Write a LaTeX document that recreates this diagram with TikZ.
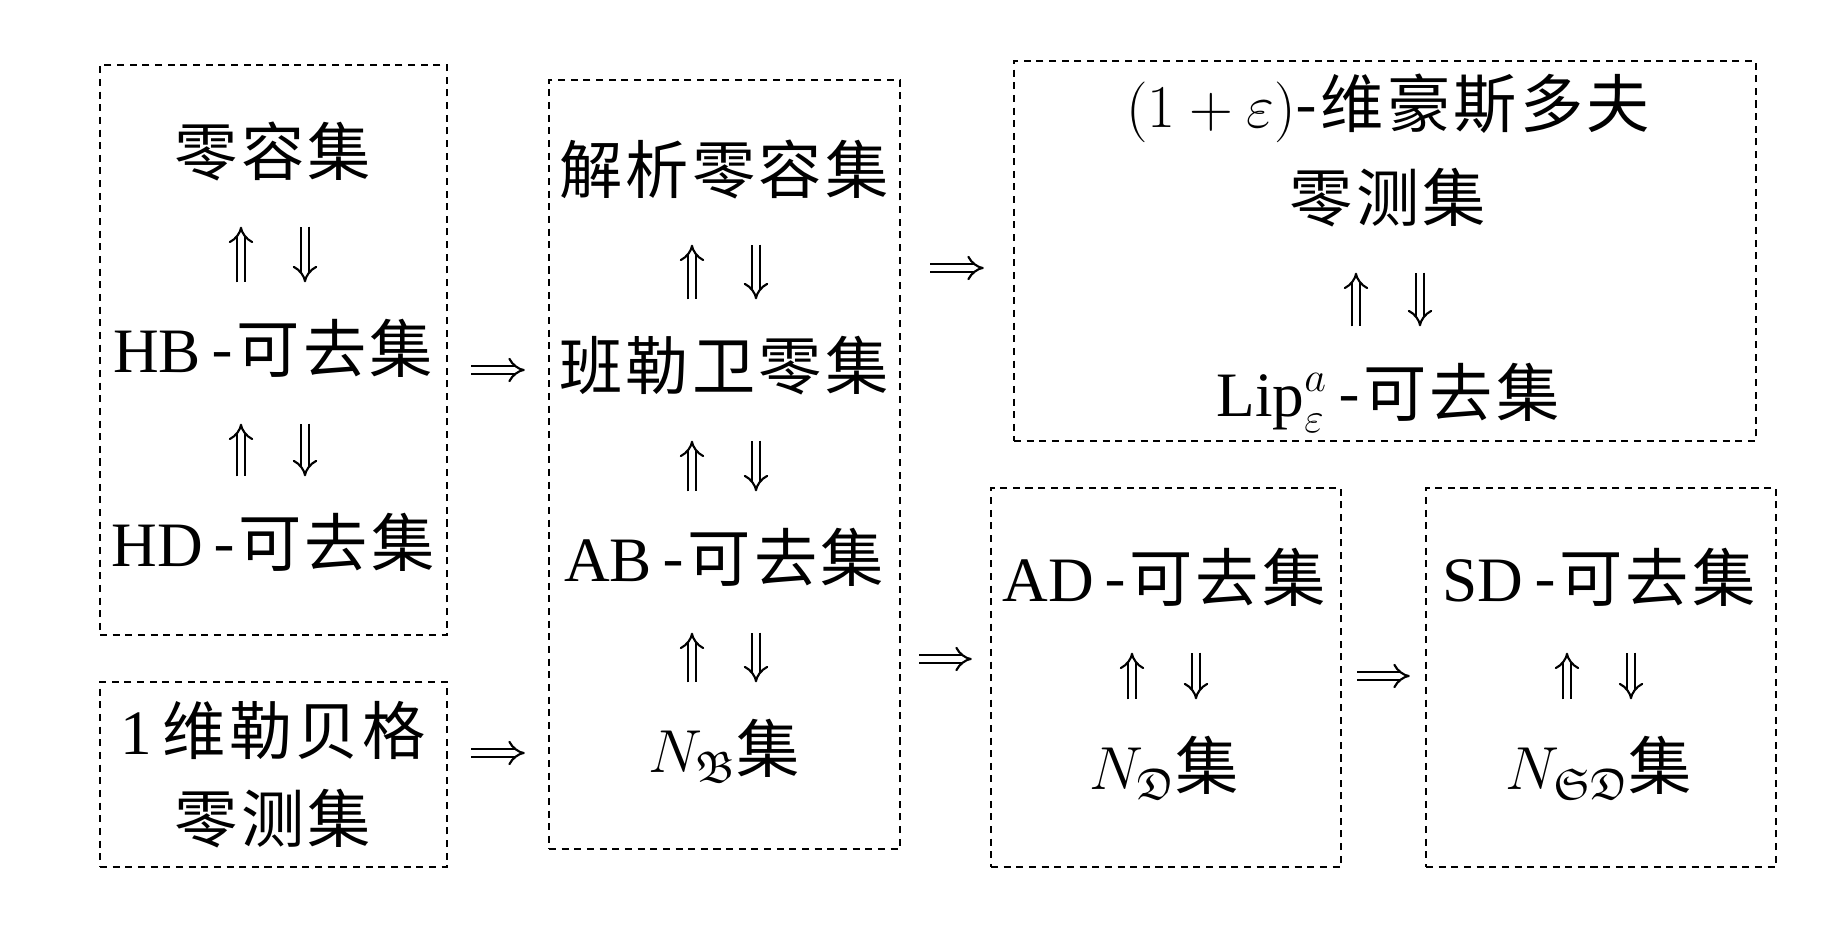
\documentclass[tikz,border=0pt]{standalone}
\usepackage{amsmath,amssymb}
\usepackage{fontspec}
\setmainfont{Liberation Serif}
\newfontfamily\cjk[LetterSpace=5]{Noto Sans CJK SC}
\usetikzlibrary{arrows.meta}

\tikzset{
  box/.style={draw, line width=0.7pt, dash pattern=on 2pt off 1.6pt, inner sep=0pt},
  txt/.style={font=\fontsize{18}{20}\selectfont, inner sep=0pt, text height=0.5cm, text depth=0.1cm},
  imp/.style={double, double distance=1.8pt, line width=0.6pt, -{Implies}, shorten >=0.40cm, shorten <=0.40cm},
  go/.style={double, double distance=1.8pt, line width=0.6pt, -{Implies}, shorten >=#1, shorten <=#1},
  go/.default=0.23cm
}
% up and down arrows between two rows
\newcommand{\ud}[2]{%
  \draw[imp] ([xshift=-0.32cm]#2.north) -- ([xshift=-0.32cm]#1.south);
  \draw[imp] ([xshift=0.32cm]#1.south) -- ([xshift=0.32cm]#2.north);
}

\begin{document}
\begin{tikzpicture}
    \useasboundingbox (0,0) rectangle (18.44,9.44);

    % frames
    \node[box, minimum width=3.47cm, minimum height=5.70cm] (b1) at (2.735,5.94) {};
    \node[box, minimum width=3.47cm, minimum height=1.85cm] (b2) at (2.735,1.695) {};
    \node[box, minimum width=3.51cm, minimum height=7.69cm] (b3) at (7.245,4.795) {};
    \node[box, minimum width=7.42cm, minimum height=3.80cm] (b4) at (13.85,6.93) {};
    \node[box, minimum width=3.50cm, minimum height=3.79cm] (b5) at (11.66,2.665) {};
    \node[box, minimum width=3.50cm, minimum height=3.79cm] (b6) at (16.01,2.665) {};

    % first column
    \node[txt] (lr) at (2.73,7.88) {\cjk 零容集};
    \node[txt] (hb) at (2.73,5.91) {HB\,{\cjk -可去集}};
    \node[txt] (hd) at (2.73,3.97) {HD\,{\cjk -可去集}};
    \node[txt] (lbg) at (2.73,2.09) {1\,{\cjk 维勒贝格}};
    \node[txt] (lc1) at (2.73,1.21) {\cjk 零测集};
    \ud{lr}{hb}
    \ud{hb}{hd}

    % second column
    \node[txt] (jx) at (7.24,7.70) {\cjk 解析零容集};
    \node[txt] (bl) at (7.24,5.74) {\cjk 班勒卫零集};
    \node[txt] (ab) at (7.24,3.82) {AB\,{\cjk -可去集}};
    \node[txt] (nb) at (7.24,1.91) {$N_{\mathfrak{B}}${\cjk 集}};
    \ud{jx}{bl}
    \ud{bl}{ab}
    \ud{ab}{nb}

    % top right
    \node[txt] (hs) at (13.88,8.36) {$(1+\varepsilon)${\cjk -维豪斯多夫}};
    \node[txt] (lc2) at (13.88,7.42) {\cjk 零测集};
    \node[txt] (lip) at (13.88,5.47) {$\mathrm{Lip}^{a}_{\varepsilon}$\,{\cjk -可去集}};
    \ud{lc2}{lip}

    % bottom right
    \node[txt] (ad) at (11.64,3.62) {AD\,{\cjk -可去集}};
    \node[txt] (nd) at (11.64,1.74) {$N_{\mathfrak{D}}${\cjk 集}};
    \ud{ad}{nd}
    \node[txt] (sd) at (15.99,3.62) {SD\,{\cjk -可去集}};
    \node[txt] (nsd) at (15.99,1.74) {$N_{\mathfrak{SD}}${\cjk 集}};
    \ud{sd}{nsd}

    % implications between frames
    \draw[go] (b1.east |- bl) -- (b3.west |- bl);
    \draw[go] (b2.east |- nb) -- (b3.west |- nb);
    \draw[go=0.29cm] (b3.east |- 0,6.76) -- (b4.west |- 0,6.76);
    \draw[go=0.18cm] (b3.east |- 0,2.85) -- (b5.west |- 0,2.85);
    \draw[go=0.15cm] (b5.east |- 0,2.68) -- (b6.west |- 0,2.68);
\end{tikzpicture}
\end{document}
